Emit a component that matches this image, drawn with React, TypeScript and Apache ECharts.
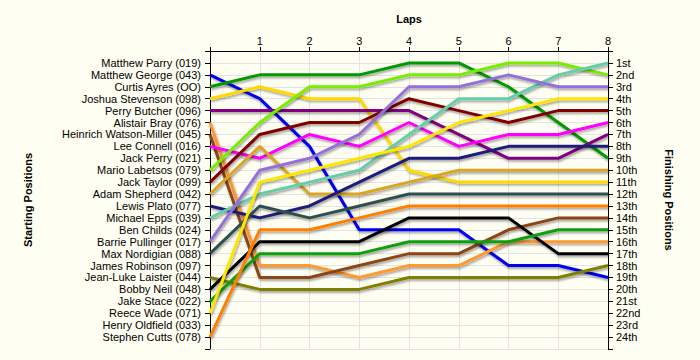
import React, { useEffect, useRef } from "react";
import * as echarts from "echarts";

// Laps 0..8
const laps = [0, 1, 2, 3, 4, 5, 6, 7, 8];

// Starting grid labels (position 1..24)
const startingLabels = [
  "Matthew Parry (019)", "Matthew George (043)", "Curtis Ayres (OO)", "Joshua Stevenson (098)",
  "Perry Butcher (096)", "Alistair Bray (076)", "Heinrich Watson-Miller (045)", "Lee Connell (016)",
  "Jack Perry (021)", "Mario Labetsos (079)", "Jack Taylor (099)", "Adam Shepherd (042)",
  "Lewis Plato (077)", "Michael Epps (039)", "Ben Childs (024)", "Barrie Pullinger (017)",
  "Max Nordigian (088)", "James Robinson (097)", "Jean-Luke Laister (044)", "Bobby Neil (048)",
  "Jake Stace (022)", "Reece Wade (071)", "Henry Oldfield (033)", "Stephen Cutts (078)",
];

// Finishing labels (position 1..24)
const finishingLabels = [
  "1st", "2nd", "3rd", "4th", "5th", "6th", "7th", "8th", "9th", "10th", "11th", "12th",
  "13th", "14th", "15th", "16th", "17th", "18th", "19th", "20th", "21st", "22nd", "23rd", "24th",
];

// Positions per lap (lap 0..8)
const parry = [1, 1, 1, 1, null, null, null, null, null];
const george = [2, 4, 8, 15, 15, 15, 18, 18, 19];
const ayres = [3, 2, 2, 2, 1, 1, 3, 6, 9];
const stevenson = [4, 3, 4, 4, 10, 11, 11, 11, 11];
const butcher = [5, 5, 5, 5, 5, 7, 9, 9, 7];
const bray = [6, 18, 18, 19, 18, 18, 16, 16, 16];
const watsonMiller = [7, 19, 19, 18, 17, 17, 15, 14, 14];
const connell = [8, 9, 7, 8, 6, 8, 7, 7, 6];
const labetsos = [10, 6, 3, 3, 2, 2, 1, 1, 2];
const taylor = [11, 7, 6, 6, 4, 5, 6, 5, 5];
const shepherd = [12, 8, 12, 12, 11, 10, 10, 10, 10];
const plato = [13, 14, 13, 11, 9, 9, 8, 8, 8];
const epps = [14, 12, 11, 10, 7, 4, 4, 2, 1];
const pullinger = [16, 10, 9, 7, 3, 3, 2, 3, 3];
const nordigian = [17, 13, 14, 13, 12, 12, 12, 12, 12];
const laister = [19, 20, 20, 20, 19, 19, 19, 19, 18];
const neil = [20, 16, 16, 16, 14, 14, 14, 17, 17];
const stace = [21, 17, 17, 17, 16, 16, 16, 15, 15];
const wade = [22, 11, 10, 9, 8, 6, 5, 4, 4];
const cutts = [24, 15, 15, 14, 13, 13, 13, 13, 13];

const drivers: { name: string; data: (number | null)[]; color: string }[] = [
  { name: "Matthew Parry (019)", data: parry, color: "#EE0000" },
  { name: "Matthew George (043)", data: george, color: "#0000EE" },
  { name: "Curtis Ayres (OO)", data: ayres, color: "#009900" },
  { name: "Joshua Stevenson (098)", data: stevenson, color: "#FFD800" },
  { name: "Perry Butcher (096)", data: butcher, color: "#800080" },
  { name: "Alistair Bray (076)", data: bray, color: "#FF9933" },
  { name: "Heinrich Watson-Miller (045)", data: watsonMiller, color: "#8B4513" },
  { name: "Lee Connell (016)", data: connell, color: "#FF00FF" },
  { name: "Mario Labetsos (079)", data: labetsos, color: "#77EE00" },
  { name: "Jack Taylor (099)", data: taylor, color: "#800000" },
  { name: "Adam Shepherd (042)", data: shepherd, color: "#DAA520" },
  { name: "Lewis Plato (077)", data: plato, color: "#1C1C7C" },
  { name: "Michael Epps (039)", data: epps, color: "#66CDAA" },
  { name: "Barrie Pullinger (017)", data: pullinger, color: "#9370DB" },
  { name: "Max Nordigian (088)", data: nordigian, color: "#2F4F4F" },
  { name: "Jean-Luke Laister (044)", data: laister, color: "#808000" },
  { name: "Bobby Neil (048)", data: neil, color: "#000000" },
  { name: "Jake Stace (022)", data: stace, color: "#10A010" },
  { name: "Reece Wade (071)", data: wade, color: "#FFE600" },
  { name: "Stephen Cutts (078)", data: cutts, color: "#FF7F00" },
];

const FONT = "'Liberation Sans', Arial, sans-serif";

export default function App() {
  const ref = useRef<HTMLDivElement>(null);
  useEffect(() => {
    if (!ref.current) return;
    const chart = echarts.init(ref.current, undefined, { renderer: "svg" });
    const yLabel = (labels: string[]) => (v: number) =>
      v >= 1 && v <= labels.length ? labels[Math.round(v) - 1] : "";
    chart.setOption({
      animation: false,
      backgroundColor: "#FFFEF2",
      textStyle: { fontFamily: FONT },
      grid: { left: 210, right: 92, top: 51, bottom: 11, containLabel: false },
      xAxis: {
        type: "value",
        position: "top",
        min: 0,
        max: 8,
        interval: 1,
        name: "Laps",
        nameLocation: "middle",
        nameGap: 27,
        nameTextStyle: { fontWeight: "bold", fontSize: 11, color: "#000", fontFamily: FONT },
        axisLine: { show: true, lineStyle: { color: "#000", width: 1 } },
        axisTick: { show: true, length: 4, lineStyle: { color: "#000" } },
        axisLabel: {
          margin: 5,
          fontSize: 11,
          color: "#000",
          fontFamily: FONT,
          formatter: (v: number) => (v === 0 ? "" : String(v)),
        },
        splitLine: { show: true, lineStyle: { color: "#E4E4E4", width: 1 } },
      },
      yAxis: [
        {
          type: "value",
          position: "left",
          inverse: true,
          min: 0,
          max: 25,
          interval: 1,
          name: "Starting Positions",
          nameLocation: "middle",
          nameRotate: 90,
          nameGap: 177,
          nameTextStyle: { fontWeight: "bold", fontSize: 11, color: "#000", fontFamily: FONT },
          axisLine: { show: true, lineStyle: { color: "#000", width: 1 } },
          axisTick: { show: true, length: 5, lineStyle: { color: "#000" } },
          axisLabel: {
            margin: 9,
            fontSize: 11,
            color: "#000",
            fontFamily: FONT,
            showMinLabel: true,
            showMaxLabel: true,
            formatter: yLabel(startingLabels),
          },
          splitLine: { show: true, lineStyle: { color: "#E4E4E4", width: 1 } },
        },
        {
          type: "value",
          position: "right",
          inverse: true,
          min: 0,
          max: 25,
          interval: 1,
          name: "Finishing Positions",
          nameLocation: "middle",
          nameRotate: -90,
          nameGap: 55,
          nameTextStyle: { fontWeight: "bold", fontSize: 11, color: "#000", fontFamily: FONT },
          axisLine: { show: true, lineStyle: { color: "#000", width: 1 } },
          axisTick: { show: true, length: 5, lineStyle: { color: "#000" } },
          axisLabel: {
            margin: 8,
            fontSize: 11,
            color: "#000",
            fontFamily: FONT,
            formatter: yLabel(finishingLabels),
          },
          splitLine: { show: false },
        },
      ],
      series: drivers.map((d) => ({
        name: d.name,
        type: "line",
        yAxisIndex: 0,
        data: laps.map((lap, i) => [lap, d.data[i]]),
        showSymbol: false,
        symbol: "none",
        connectNulls: false,
        lineStyle: {
          color: d.color,
          width: 3,
          shadowColor: "rgba(0,0,0,0.35)",
          shadowBlur: 2,
          shadowOffsetX: 1,
          shadowOffsetY: 2,
        },
        itemStyle: { color: d.color },
      })),
    });
    return () => chart.dispose();
  }, []);
  return <div ref={ref} style={{ width: 700, height: 360, position: "absolute", left: 0, top: 0 }} />;
}
